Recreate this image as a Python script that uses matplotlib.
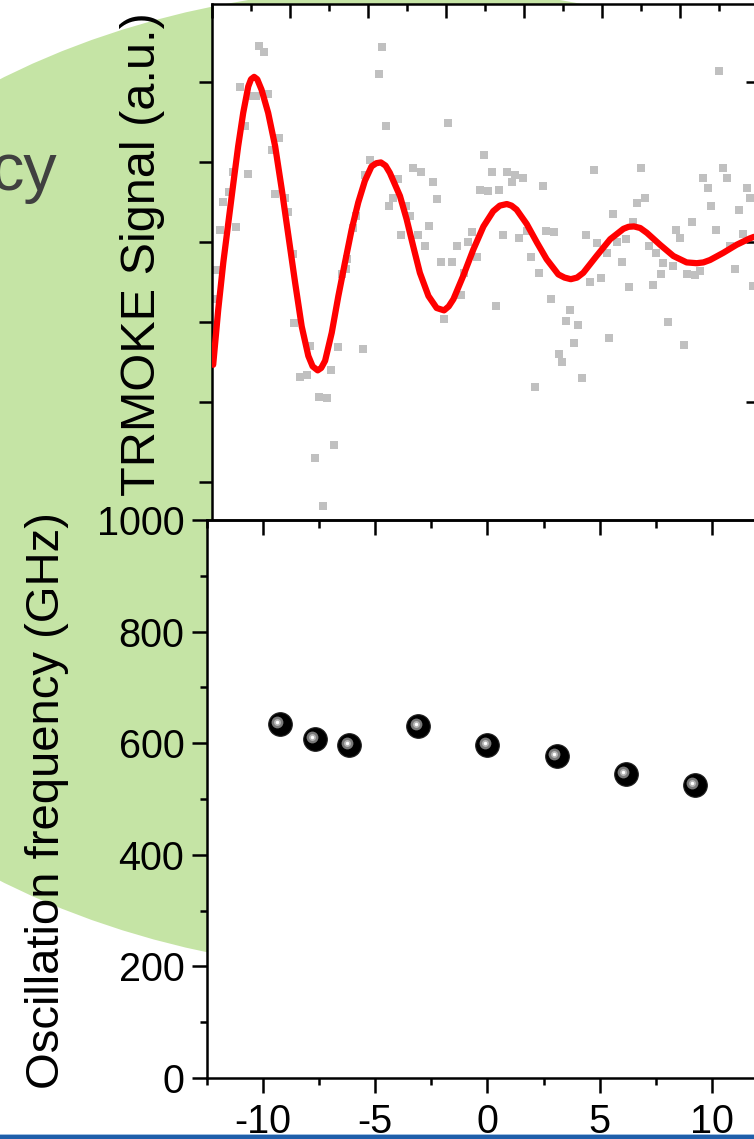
import matplotlib
matplotlib.use("Agg")
import matplotlib.pyplot as plt
from matplotlib.patches import Ellipse, Rectangle
from matplotlib.transforms import offset_copy
from matplotlib.ticker import MultipleLocator

plt.rcParams['font.family'] = ['Liberation Sans', 'DejaVu Sans']
plt.rcParams['axes.unicode_minus'] = False

# top panel: TRMOKE trace (delay in arb. units, signal in a.u.)
delay = [1.21, 1.33, 4.36, 4.28, 0.72, 1.05, 1.13, 1.44, 0.85, 1.72, 1.54, 4.05,
         0.54, 0.92, 3.92, 0.44, 1.62, 0.28, 1.87, 1.95, 0.21, 0.62, 3.69, 3.62,
         2.08, 3.46, 0.10, 3.44, 3.33, 0.03, 0.02, 2.10, 2.51, 3.23, 3.87, 2.26,
         2.44, 3.05, 2.74, 2.95, 3.13, 2.64, 2.85,
         13.0, 4.46, 6.05, 6.97, 5.15, 5.36, 7.18, 7.56, 7.77, 7.97, 7.69, 5.67,
         4.77, 8.49, 9.79, 11.0, 13.10, 13.21, 12.59, 12.72, 13.72, 13.79, 6.87,
         7.08, 7.36, 4.64, 4.54, 5.77, 4.97, 5.08, 11.10, 10.90, 12.79, 13.51,
         10.28, 10.79, 12.31, 5.56, 4.85, 5.28, 6.67, 6.56, 7.46, 7.87, 8.08,
         8.56, 8.77, 9.59, 11.90, 12.0, 12.92, 13.62, 5.46, 6.28, 9.87, 10.38,
         10.62, 11.21, 13.28, 10.13, 11.38, 6.79, 8.18, 5.87, 6.15, 10.51, 11.56,
         11.82, 13.41, 6.46, 8.38, 11.51, 12.18, 12.38, 12.51, 9.69, 9.97, 10.69,
         11.31, 13.87, 6.38, 8.69,
         5.95, 7.28, 9.18, 9.08, 9.38, 9.28, 10.18, 11.69, 12.10, 8.90, 8.97,
         9.49, 8.28]
signal = [2.46, 2.38, 2.44, 2.11, 1.94, 1.83, 1.83, 1.86, 1.46, 1.30, 1.16, 1.03,
          0.88, 0.85, 0.84, 0.63, 0.61, 0.50, 0.55, 0.38, 0.16, 0.19, 0.33, 0.18,
          -0.15, -0.21, -0.35, -0.33, -0.40, -0.71, -1.30, -1.01, -1.30, -1.31, -1.33, -1.68,
          -1.66, -1.59, -1.93, -1.95, -2.53, -2.70, -3.30,
          2.14, 1.45, 1.49, 1.09, 0.93, 0.88, 0.88, 0.88, 0.84, 0.81, 0.75, 0.75,
          0.79, 0.71, 0.90, 0.93, 0.93, 0.81, 0.81, 0.68, 0.68, 0.56, 0.65,
          0.64, 0.66, 0.55, 0.45, 0.54, 0.45, 0.33, 0.56, 0.49, 0.46, 0.41,
          0.35, 0.26, 0.25, 0.21, 0.09, 0.09, 0.13, 0.01, 0.09, 0.06, 0.14,
          0.14, 0.13, 0.09, 0.15, 0.06, 0.15, 0.10, -0.05, -0.05, -0.01, 0.0,
          0.04, -0.04, -0.05, -0.13, -0.13, -0.18, -0.18, -0.24, -0.24, -0.25, -0.26,
          -0.30, -0.33, -0.38, -0.38, -0.39, -0.39, -0.41, -0.36, -0.50, -0.45, -0.56,
          -0.53, -0.54, -0.66, -0.71,
          -0.96, -0.79, -0.85, -0.98, -1.03, -1.26, -1.20, -1.00, -1.28, -1.40, -1.49,
          -1.69, -1.81]

# fitted curve
fit_delay = [0.03, 0.16, 0.29, 0.42, 0.55, 0.67, 0.80, 0.93, 1.00, 1.08, 1.16, 1.27,
             1.44, 1.62, 1.79, 1.96, 2.13, 2.30, 2.47, 2.58, 2.71, 2.80, 2.90, 3.07,
             3.24, 3.41, 3.58, 3.75, 3.92, 4.09, 4.21, 4.33, 4.45, 4.56, 4.82, 4.99,
             5.16, 5.33, 5.55, 5.76, 5.95, 6.07, 6.19, 6.44, 6.70, 6.96, 7.21, 7.38,
             7.56, 7.68, 7.81, 8.07, 8.33, 8.58, 8.88, 9.04, 9.20, 9.36, 9.52, 9.86,
             10.21, 10.55, 10.68, 10.82, 10.98, 11.15, 11.49, 11.83, 12.17, 12.43,
             12.60, 12.77, 13.11, 13.45, 13.79, 13.90]
fit_signal = [-1.53, -0.84, -0.25, 0.25, 0.75, 1.20, 1.62, 1.95, 2.04, 2.07, 2.04, 1.91,
              1.62, 1.20, 0.66, 0.08, -0.50, -1.05, -1.42, -1.55, -1.60, -1.57, -1.48, -1.13,
              -0.67, -0.25, 0.16, 0.50, 0.77, 0.95, 0.99, 1.00, 0.96, 0.87, 0.58, 0.29,
              -0.05, -0.38, -0.67, -0.82, -0.85, -0.80, -0.71, -0.42, -0.09, 0.20, 0.39, 0.46,
              0.48, 0.46, 0.41, 0.23, 0.00, -0.21, -0.40, -0.44, -0.46, -0.44, -0.38, -0.17,
              0.04, 0.17, 0.195, 0.20, 0.18, 0.12, -0.03, -0.17, -0.25, -0.26,
              -0.25, -0.22, -0.13, -0.03, 0.05, 0.07]

# bottom panel: oscillation frequency
field = [-9.25, -7.7, -6.15, -3.08, 0, 3.08, 6.17, 9.25]
freq = [634, 607, 596, 630, 596, 577, 544, 525]

fig = plt.figure(figsize=(7.54, 11.39), dpi=100)

# slide background
fig.add_artist(Ellipse((0.5358, 0.5786), 1.8435, 0.8648, transform=fig.transFigure,
                       facecolor='#C5E4A5', edgecolor='none', zorder=-1))
fig.text(57 / 754, 1 - 190 / 1139, 'cy', ha='right', va='baseline',
         fontsize=48, color='#404040')

lw = 1.8

ax1 = fig.add_axes([0.28117, 0.54214, 0.72414, 0.45391])
ax1.scatter(delay, signal, marker='s', s=36, color='#C0C0C0', linewidths=0, zorder=2)
ax1.plot(fit_delay, fit_signal, color='red', lw=4.5, zorder=3,
         solid_joinstyle='round', solid_capstyle='round')
ax1.set_xlim(0, 14)
ax1.set_ylim(-3.49, 2.975)
ax1.xaxis.set_ticks_position('top')
ax1.xaxis.set_major_locator(MultipleLocator(2))
ax1.xaxis.set_minor_locator(MultipleLocator(1))
ax1.tick_params(axis='x', which='both', direction='in', width=lw,
                labeltop=False, labelbottom=False)
ax1.tick_params(axis='x', which='major', length=10)
ax1.tick_params(axis='x', which='minor', length=5)
ax1.yaxis.set_major_locator(MultipleLocator(1))
ax1.tick_params(axis='y', which='major', direction='out', length=9.5, width=lw,
                labelleft=False)
for s in ax1.spines.values():
    s.set_linewidth(lw)
right = ax1.secondary_yaxis('right')
right.set_yticks([-2, 0, 2])
right.tick_params(direction='in', length=9, width=lw, labelright=False)
right.spines['right'].set_linewidth(lw)

ax2 = fig.add_axes([0.27454, 0.05356, 0.7439, 0.4899])
ax2.plot(field, freq, 'o', ms=17, mfc='black', mec='#202020', mew=0.8, zorder=3)
hl = offset_copy(ax2.transData, fig=fig, x=-2.5, y=2.5, units='dots')
ax2.plot(field, freq, 'o', ms=8.5, mfc='#7a7a7a', mec='none', transform=hl, zorder=4)
ax2.plot(field, freq, 'o', ms=5, mfc='#b5b5b5', mec='none', transform=hl, zorder=5)
ax2.plot(field, freq, 'o', ms=2.5, mfc='white', mec='none', transform=hl, zorder=6)
ax2.set_xlim(-12.5, 12.5)
ax2.set_ylim(0, 1000)
ax2.xaxis.set_major_locator(MultipleLocator(5))
ax2.xaxis.set_minor_locator(MultipleLocator(2.5))
ax2.yaxis.set_major_locator(MultipleLocator(200))
ax2.yaxis.set_minor_locator(MultipleLocator(100))
ax2.tick_params(which='major', direction='out', length=10.5, width=lw, labelsize=28.5)
ax2.tick_params(which='minor', direction='out', length=5, width=lw)
ax2.tick_params(axis='x', which='major', pad=7.5)
ax2.tick_params(axis='y', which='major', pad=5.8)
for s in ax2.spines.values():
    s.set_linewidth(lw)
top = ax2.secondary_xaxis('top')
top.xaxis.set_major_locator(MultipleLocator(5))
top.xaxis.set_minor_locator(MultipleLocator(2.5))
top.tick_params(which='major', direction='in', length=10.5, width=lw, labeltop=False)
top.tick_params(which='minor', direction='in', length=5.5, width=lw)
top.spines['top'].set_linewidth(lw)

fig.text(142.4 / 754, 1 - 254.5 / 1139, 'TRMOKE Signal (a.u.)', rotation=90,
         ha='center', va='center', fontsize=35, color='black')
fig.text(46.8 / 754, 1 - 800.5 / 1139, 'Oscillation frequency (GHz)', rotation=90,
         ha='center', va='center', fontsize=34, color='black')

# slide footer bar
fig.add_artist(Rectangle((0, 0), 1, 4 / 1139, transform=fig.transFigure,
                         facecolor='#1F5FAA', edgecolor='none', zorder=10))
fig.add_artist(Rectangle((0, 4 / 1139), 1, 1.5 / 1139, transform=fig.transFigure,
                         facecolor='#9DBDE0', edgecolor='none', zorder=10))

fig.savefig('out.png', dpi=100)
